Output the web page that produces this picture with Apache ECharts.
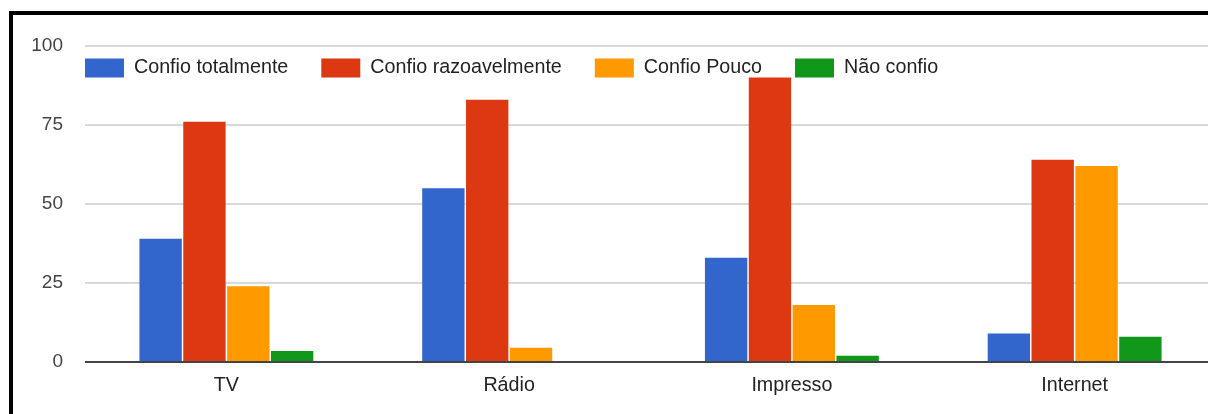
<!DOCTYPE html>
<html>
<head>
<meta charset="utf-8">
<script src="https://cdn.jsdelivr.net/npm/echarts@6/dist/echarts.min.js"></script>
<style>
html,body{margin:0;padding:0;background:#fff;overflow:hidden;width:1208px;height:414px;}
#chart{width:1224px;height:414px;}
</style>
</head>
<body>
<div id="chart"></div>
<script>
const categories = ['TV', 'Rádio', 'Impresso', 'Internet'];
const seriesNames = ['Confio totalmente', 'Confio razoavelmente', 'Confio Pouco', 'Não confio'];
const confioTotalmente = [39, 55, 33, 9];
const confioRazoavelmente = [76, 83, 90, 64];
const confioPouco = [24, 4.5, 18, 62];
const naoConfio = [3.5, 0, 2, 8];
const yTicks = [0, 25, 50, 75, 100];

const colors = ['#3366cc', '#dc3912', '#ff9900', '#109618'];
const values = [confioTotalmente, confioRazoavelmente, confioPouco, naoConfio];

const chart = echarts.init(document.getElementById('chart'));
chart.setOption({
  animation: false,
  color: colors,
  textStyle: { fontFamily: 'Arial, "Liberation Sans", sans-serif' },
  grid: { left: 85, width: 1131, top: 46, height: 316, containLabel: false },
  legend: {
    left: 85, top: 58, padding: 0,
    itemWidth: 39, itemHeight: 19, itemGap: 33,
    icon: 'rect',
    textStyle: { fontSize: 19.7, color: '#222', padding: [0, 0, 0, 5] },
    data: seriesNames
  },
  xAxis: {
    type: 'category',
    data: categories,
    axisLine: { show: false },
    axisTick: { show: false },
    axisLabel: { fontSize: 19.7, color: '#222', margin: 14 }
  },
  yAxis: {
    type: 'value',
    min: yTicks[0], max: yTicks[yTicks.length - 1], interval: 25,
    axisLine: { show: false },
    axisTick: { show: false },
    axisLabel: { fontSize: 19, color: '#444', margin: 22 },
    splitLine: { lineStyle: { color: '#cccccc', width: 1.5 } }
  },
  series: seriesNames.map((name, i) => ({
    name: name,
    type: 'bar',
    data: values[i],
    barGap: '3.5%',
    barCategoryGap: '38.5%',
    itemStyle: { color: colors[i] },
    markLine: i === 0 ? {
      silent: true, symbol: 'none', label: { show: false },
      lineStyle: { color: '#444', width: 2, type: 'solid' },
      data: [{ yAxis: 0 }]
    } : undefined
  })),
  graphic: [{
    type: 'polyline',
    shape: { points: [[11, 414], [11, 13], [1224, 13]] },
    style: { stroke: '#000', lineWidth: 4, fill: null },
    z: 100
  }]
});
</script>
</body>
</html>
